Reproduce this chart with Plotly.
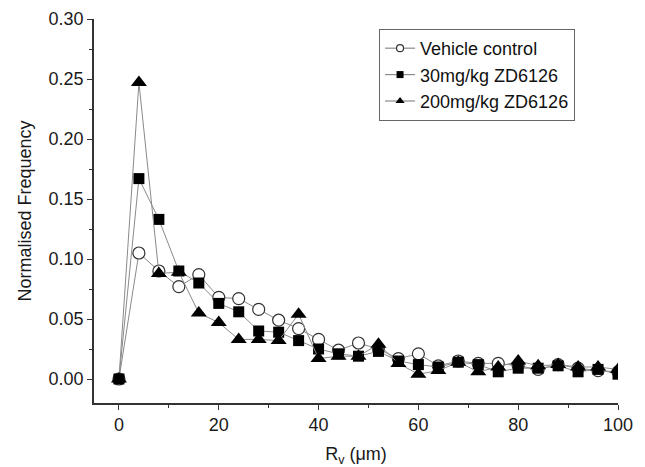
import plotly.graph_objects as go

rv = [0, 4, 8, 12, 16, 20, 24, 28, 32, 36, 40, 44, 48, 52, 56, 60, 64, 68, 72, 76, 80, 84, 88, 92, 96, 100]
vehicle = [0, 0.105, 0.090, 0.077, 0.087, 0.068, 0.067, 0.058, 0.049, 0.042, 0.033, 0.024, 0.030, 0.025,
           0.017, 0.021, 0.011, 0.015, 0.013, 0.013, 0.011, 0.008, 0.012, 0.009, 0.007, 0.006]
dose30 = [0, 0.167, 0.133, 0.090, 0.080, 0.063, 0.056, 0.040, 0.039, 0.032, 0.025, 0.021, 0.019, 0.023,
          0.015, 0.012, 0.010, 0.014, 0.012, 0.006, 0.009, 0.009, 0.011, 0.006, 0.008, 0.004]
dose200 = [0, 0.247, 0.088, 0.089, 0.055, 0.047, 0.033, 0.033, 0.032, 0.054, 0.017, 0.019, 0.019, 0.029,
           0.013, 0.004, 0.007, 0.014, 0.006, 0.010, 0.015, 0.011, 0.012, 0.010, 0.010, 0.008]
names = ["Vehicle control", "30mg/kg ZD6126", "200mg/kg ZD6126"]

line = dict(color="#8a8a8a", width=1)
marker_styles = [
    dict(symbol="circle", color="white", line=dict(color="#333", width=1.2)),
    dict(symbol="square", color="black", line=dict(color="black", width=0)),
    dict(symbol="triangle-up", color="black", line=dict(color="black", width=0)),
]
plot_sizes = [12, 11, 14]
legend_sizes = [7, 7, 8]
series = [vehicle, dose30, dose200]

fig = go.Figure()
for name, ys, ms, sz in zip(names, series, marker_styles, plot_sizes):
    fig.add_trace(go.Scatter(x=rv, y=ys, name=name, mode="lines+markers", line=line,
                             marker=dict(size=sz, **ms), showlegend=False))
# legend entries with small symbols, as in the reference
for name, ms, sz in zip(names, marker_styles, legend_sizes):
    fig.add_trace(go.Scatter(x=[None], y=[None], name=name, mode="lines+markers",
                             line=dict(color="#8a8a8a", width=1.2),
                             marker=dict(size=sz, **ms), showlegend=True))

fam = "Liberation Sans, Arial, sans-serif"
axfont = dict(family=fam, size=18, color="#1a1a1a")
fig.update_layout(
    width=645, height=467,
    margin=dict(l=94, r=27, t=19, b=64),
    paper_bgcolor="white", plot_bgcolor="white",
    font=axfont,
    showlegend=True,
    legend=dict(x=0.544, y=0.974, xanchor="left", yanchor="top",
                bordercolor="#666", borderwidth=1, bgcolor="white",
                font=dict(family=fam, size=18, color="#111"),
                itemsizing="trace", tracegroupgap=0),
    xaxis=dict(range=[-5, 100], tick0=0, dtick=20, ticks="outside", ticklen=5, tickwidth=1.3,
               tickcolor="#333", showline=True, linecolor="#333", linewidth=1.5,
               showgrid=False, zeroline=False, tickfont=axfont, automargin=False,
               minor=dict(ticks="outside", ticklen=3, dtick=10, tickcolor="#333", tickwidth=1.3),
               title=dict(text="R<sub>v</sub> (μm)", font=dict(family=fam, size=18, color="#1a1a1a"),
                          standoff=14)),
    yaxis=dict(range=[-0.02, 0.30], tick0=0, dtick=0.05, tickformat=".2f", ticks="outside",
               ticklen=5, tickwidth=1.3, tickcolor="#333", showline=True, linecolor="#333",
               linewidth=1.5, showgrid=False, zeroline=False, tickfont=axfont, automargin=False,
               minor=dict(ticks="outside", ticklen=3, dtick=0.025, tickcolor="#333", tickwidth=1.3),
               title=dict(text="Normalised Frequency", font=dict(family=fam, size=18, color="#1a1a1a"),
                          standoff=12)),
)
fig.write_html("out.html", config={"displayModeBar": False},
               post_script="document.body.style.margin='0';")
